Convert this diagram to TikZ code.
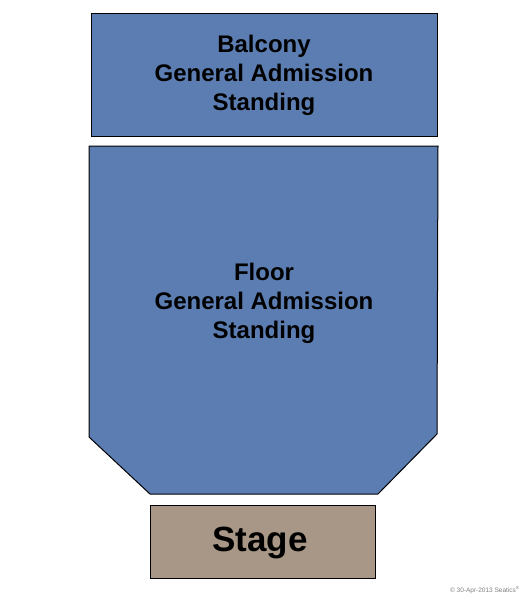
\documentclass[tikz,border=0pt]{standalone}
\usepackage{fontspec}
\setmainfont{Liberation Sans}
\definecolor{seatblue}{RGB}{92,125,178}
\definecolor{stagetan}{RGB}{168,151,134}
\begin{document}
\begin{tikzpicture}[x=1pt,y=-1pt,
  section/.style={draw=black,line width=1pt},
  sectlabel/.style={align=center,font=\bfseries\fontsize{24}{29}\selectfont}]
  \useasboundingbox (0,0) rectangle (525,600);
  % Balcony
  \draw[section,fill=seatblue] (91,13) rectangle (437,136);
  \node[sectlabel] (balcony) at (264,75) {Balcony\\General Admission\\Standing};
  % Floor
  \draw[section,fill=seatblue] (89,146) -- (438,146) -- (437,434) -- (378,494)
    -- (150,494) -- (89,437) -- cycle;
  \node[sectlabel] (floor) at (264,303) {Floor\\General Admission\\Standing};
  % Stage
  \draw[section,fill=stagetan] (150,505) rectangle (375,578);
  \node[font=\bfseries\fontsize{35}{40}\selectfont] (stage) at (260,543) {Stage};
  % Copyright
  \node[anchor=east,text=gray,font=\fontsize{6.5}{7}\selectfont,inner sep=0pt] (copy) at (520,590)
    {© 30-Apr-2013 Seatics\textsuperscript{®}};
\end{tikzpicture}
\end{document}
